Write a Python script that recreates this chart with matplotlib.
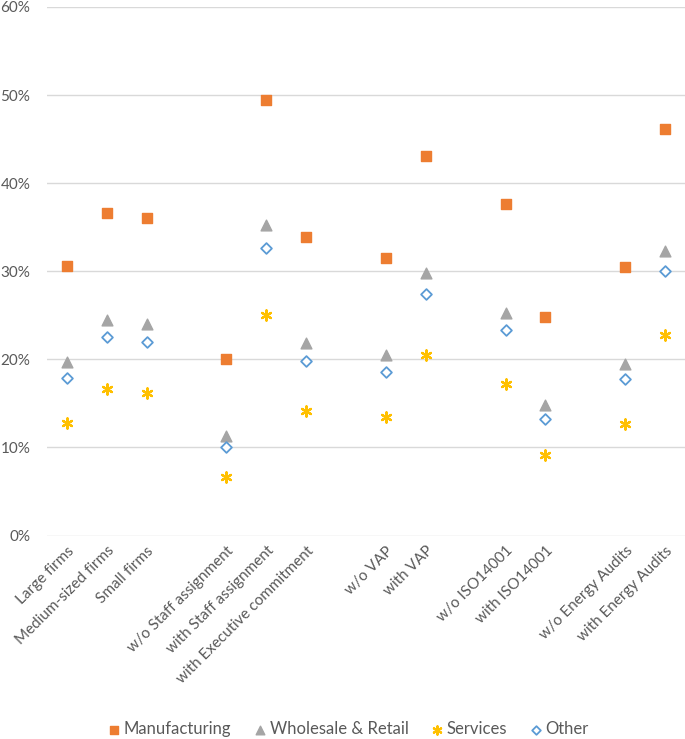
import matplotlib
matplotlib.use("Agg")
import matplotlib.pyplot as plt
from matplotlib.ticker import PercentFormatter, FixedLocator

categories = ["Large firms", "Medium-sized firms", "Small firms", "",
              "w/o Staff assignment", "with Staff assignment", "with Executive commitment", "",
              "w/o VAP", "with VAP", "",
              "w/o ISO14001", "with ISO14001", "",
              "w/o Energy Audits", "with Energy Audits"]

manufacturing = [30.6, 36.6, 36.0, None, 20.0, 49.4, 33.9, None, 31.5, 43.1, None, 37.6, 24.8, None, 30.5, 46.1]
wholesale     = [19.7, 24.5, 24.0, None, 11.3, 35.2, 21.8, None, 20.5, 29.8, None, 25.3, 14.8, None, 19.5, 32.3]
services      = [12.8, 16.6, 16.2, None, 6.6, 25.0, 14.1, None, 13.5, 20.5, None, 17.2, 9.1, None, 12.7, 22.8]
other         = [17.9, 22.5, 22.0, None, 10.0, 32.6, 19.8, None, 18.6, 27.4, None, 23.3, 13.2, None, 17.8, 30.0]

plt.rcParams['font.family'] = ['Lato', 'DejaVu Sans']
txt = '#595959'

fig = plt.figure(figsize=(6.85, 7.39), dpi=100)
ax = fig.add_axes([47/685, 1-535.5/739, 638/685, (535.5-7)/739])

x = list(range(len(categories)))
def pts(vals):
    xs = [i for i, v in zip(x, vals) if v is not None]
    ys = [v for v in vals if v is not None]
    return xs, ys

xs, ys = pts(manufacturing)
ax.scatter(xs, ys, marker='s', s=55, color='#ED7D31', label='Manufacturing', zorder=3)
xs, ys = pts(wholesale)
ax.scatter(xs, ys, marker='^', s=60, color='#A5A5A5', label='Wholesale & Retail', zorder=3)
xs, ys = pts(services)
ax.scatter(xs, ys, marker=(6, 2, 0), s=55, color='#FFC000', linewidths=1.6, label='Services', zorder=3)
xs, ys = pts(other)
ax.scatter(xs, ys, marker='D', s=30, facecolors='white', edgecolors='#5B9BD5', linewidths=1.3, label='Other', zorder=3)

ax.set_xlim(-0.5, len(categories) - 0.5)
ax.set_ylim(0, 60)
ax.yaxis.set_major_locator(FixedLocator([0, 10, 20, 30, 40, 50, 60]))
ax.yaxis.set_major_formatter(PercentFormatter(decimals=0))
ax.grid(axis='y', color='#D9D9D9', linewidth=1)
ax.set_axisbelow(True)
for s in ax.spines.values():
    s.set_visible(False)
ax.tick_params(axis='both', length=0, colors=txt, labelsize=11)
ax.tick_params(axis='y', pad=12)
ax.set_xticks(x)
ax.set_xticklabels(categories, rotation=45, ha='right', rotation_mode='anchor', color=txt, fontsize=11)
ax.tick_params(axis='x', pad=6)

leg = fig.legend(loc='center', bbox_to_anchor=(348/685, 1-729/739), ncol=4, frameon=False,
                 fontsize=12, handletextpad=0.2, columnspacing=1.3, handlelength=0.8,
                 markerscale=0.8, borderpad=0)
for t in leg.get_texts():
    t.set_color(txt)

fig.savefig('out.png', dpi=100)
